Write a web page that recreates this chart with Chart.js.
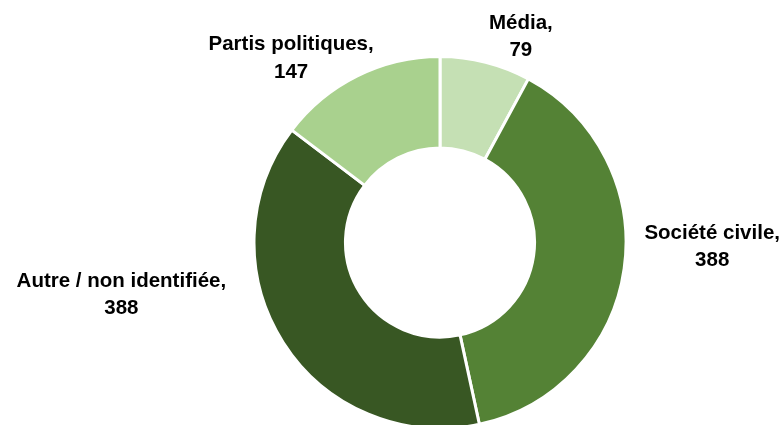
<!DOCTYPE html>
<html>
<head>
<meta charset="utf-8">
<script src="https://cdn.jsdelivr.net/npm/chart.js@4"></script>
<style>
  html, body { margin: 0; padding: 0; background: #fff; }
  #wrap { width: 781px; height: 425px; }
</style>
</head>
<body>
<div id="wrap"><canvas id="chart"></canvas></div>
<script>
// data
const categories = ['Média', 'Société civile', 'Autre / non identifiée', 'Partis politiques'];
const counts = [79, 388, 388, 147];
const sliceColors = ['#c5e0b4', '#548235', '#385723', '#a9d18e'];

// manual nudges for the outside labels (px), like in the original sheet
const labelNudge = [[25, 11], [11, -27], [-65, -68], [-25, 16]];

const outsideLabels = {
  id: 'outsideLabels',
  afterDatasetsDraw(chart) {
    const ctx = chart.ctx;
    const meta = chart.getDatasetMeta(0);
    ctx.save();
    ctx.font = 'bold 20.5px "Liberation Sans", Arial, sans-serif';
    ctx.fillStyle = '#000';
    ctx.textAlign = 'center';
    ctx.textBaseline = 'middle';
    meta.data.forEach((arc, i) => {
      const p = arc.getProps(['x', 'y', 'startAngle', 'endAngle', 'outerRadius']);
      const mid = (p.startAngle + p.endAngle) / 2;
      const dx = Math.cos(mid), dy = Math.sin(mid);
      const lines = [categories[i] + ',', String(counts[i])];
      const w = Math.max(...lines.map(l => ctx.measureText(l).width));
      const lh = 27.5;
      const r = p.outerRadius + 10;
      let cx = p.x + r * dx + dx * w / 2 + labelNudge[i][0];
      let cy = p.y + r * dy + dy * lh + labelNudge[i][1];
      lines.forEach((l, k) => {
        ctx.fillText(l, cx, cy + (k - 0.5) * lh);
      });
    });
    ctx.restore();
  }
};

new Chart(document.getElementById('chart'), {
  type: 'doughnut',
  data: {
    labels: categories,
    datasets: [{
      data: counts,
      backgroundColor: sliceColors,
      borderColor: '#fff',
      borderWidth: 3,
      radius: 186,
      cutout: 92
    }]
  },
  options: {
    responsive: true,
    maintainAspectRatio: false,
    animation: false,
    events: [],
    layout: { padding: { top: 60, bottom: 0, left: 99, right: 0 } },
    plugins: {
      legend: { display: false },
      tooltip: { enabled: false }
    }
  },
  plugins: [outsideLabels]
});
</script>
</body>
</html>
